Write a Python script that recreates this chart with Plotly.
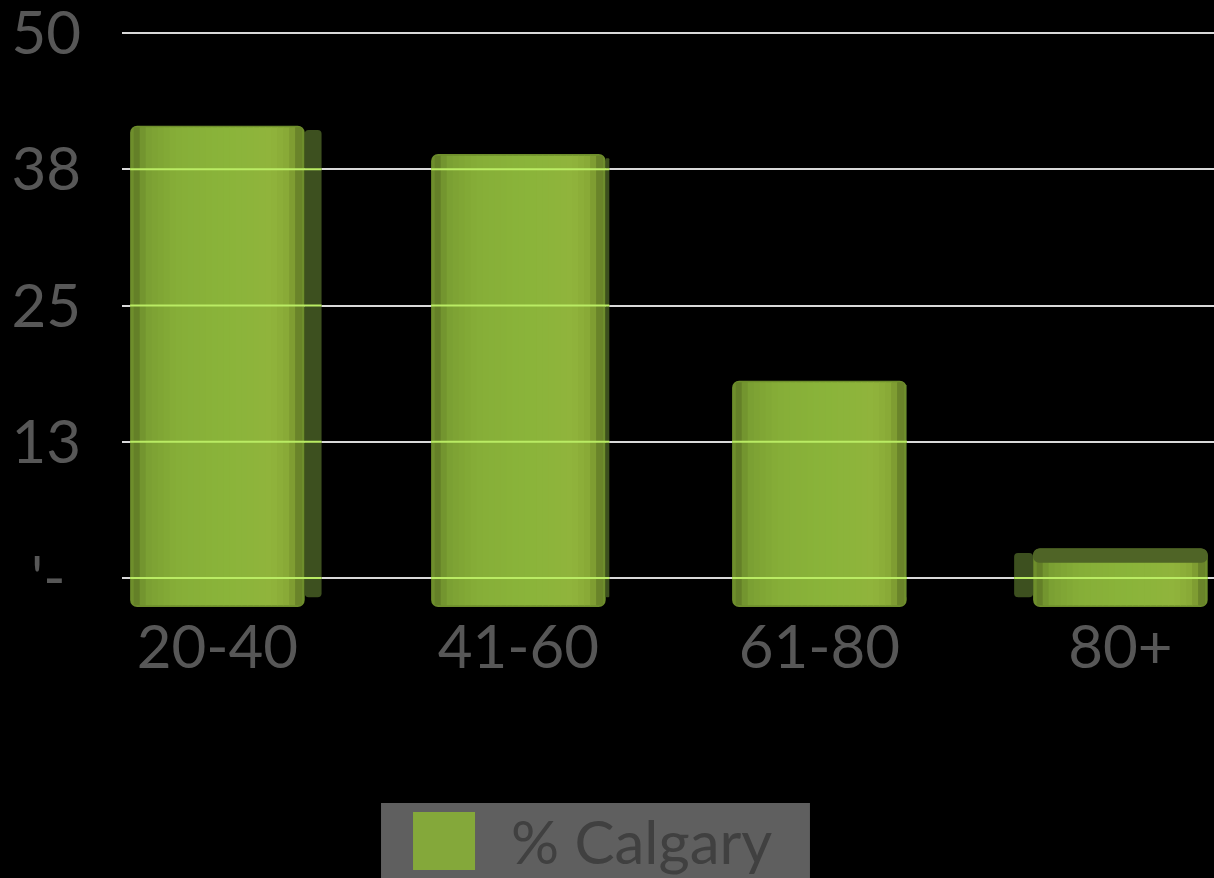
import plotly.graph_objects as go

categories = ["20-40", "41-60", "61-80", "80+"]
values = [41.5, 38.9, 18.1, 2.7]
series_name = "% Calgary"
tick_vals = [0, 12.5, 25, 37.5, 50]
tick_text = ["'-\u00a0", "13", "25", "38", "50"]

FLOOR = 2.66  # visual 3D floor depth below zero (axis units)
FONT = "Lato"
TXT = "#575757"
SIDE = "#3d501f"
TOPFACE = "#4f6426"

# horizontal shading key colours of the front face (left -> right)
keys = [(0.00, (92, 118, 36)), (0.07, (122, 158, 50)), (0.25, (134, 174, 56)),
        (0.55, (138, 180, 58)), (0.82, (144, 180, 60)), (0.93, (136, 168, 54)),
        (1.00, (96, 120, 38))]
N_STRIPS = 28
FACE_W = 0.58


def lerp_colour(t):
    for (t0, c0), (t1, c1) in zip(keys[:-1], keys[1:]):
        if t <= t1:
            f = (t - t0) / (t1 - t0) if t1 > t0 else 0
            return tuple(int(round(a + (b - a) * f)) for a, b in zip(c0, c1))
    return keys[-1][1]


x = list(range(len(categories)))
heights = [v + FLOOR for v in values]

fig = go.Figure()
# base front face (rounded)
fig.add_trace(go.Bar(
    x=x, y=heights, base=-FLOOR, name=series_name,
    width=FACE_W, marker=dict(color="rgb(110,142,44)", line=dict(width=0), cornerradius=7),
    showlegend=False, hoverinfo="skip",
))
# shading strips
inner = FACE_W - 0.024
sw = inner / N_STRIPS
for i in range(N_STRIPS):
    c = lerp_colour((i + 0.5) / N_STRIPS)
    fig.add_trace(go.Bar(
        x=x, y=[h - 0.3 for h in heights], base=-FLOOR + 0.15,
        width=sw + 0.003, offset=-FACE_W / 2 + 0.012 + i * sw,
        marker=dict(color="rgb(%d,%d,%d)" % c, line=dict(width=0)),
        showlegend=False, hoverinfo="skip",
    ))
# top face visible on the lowest bar
top_depth = [0, 0, 0, 1.3]
fig.add_trace(go.Bar(
    x=x, y=top_depth, base=[v - d for v, d in zip(values, top_depth)],
    width=FACE_W, marker=dict(color=TOPFACE, line=dict(width=0), cornerradius=6),
    showlegend=False, hoverinfo="skip",
))
# side faces (perspective)
side_w = [0.056, 0.012, 0.001, 0.063]
side_off = [0.29, 0.29, 0.29, -0.353]
fig.add_trace(go.Bar(
    x=x, y=[h - 1.3 for h in heights], base=-FLOOR + 0.9,
    width=side_w, offset=side_off,
    marker=dict(color=SIDE, line=dict(width=0), cornerradius=4),
    showlegend=False, hoverinfo="skip",
))

# gridlines glowing where they pass over the bars
for i, v in zip(x, values):
    left = i + min(-FACE_W / 2, side_off[i])
    right = i + max(FACE_W / 2, side_off[i] + side_w[i])
    for tv in tick_vals:
        if tv <= v:
            fig.add_shape(type="line", xref="x", yref="y", x0=left, x1=right, y0=tv, y1=tv,
                          line=dict(color="rgb(186,236,100)", width=2), layer="above")

# legend box
fig.add_shape(type="rect", xref="paper", yref="paper", x0=0.2372, x1=0.630,
              y0=-0.46, y1=-0.3229, fillcolor="#5f5f5f", line=dict(width=0))
fig.add_shape(type="rect", xref="paper", yref="paper", x0=0.2665, x1=0.3233,
              y0=-0.4333, y1=-0.3377, fillcolor="#84a83a", line=dict(width=0))
fig.add_annotation(xref="paper", yref="paper", x=0.3544, y=-0.386, text=series_name,
                   showarrow=False, xanchor="left", yanchor="middle",
                   font=dict(family=FONT, size=60, color="#404040"))

fig.update_layout(
    width=1214, height=878,
    paper_bgcolor="black", plot_bgcolor="black",
    margin=dict(l=122, r=0, t=0, b=271),
    barmode="overlay", showlegend=False,
    xaxis=dict(range=[-0.317, 3.311], tickvals=x, ticktext=categories,
               showgrid=False, zeroline=False, showline=False, ticks="",
               tickfont=dict(family=FONT, size=60, color=TXT)),
    yaxis=dict(range=[-FLOOR, 53.03], tickvals=tick_vals, ticktext=tick_text,
               showgrid=True, gridcolor="#d9d9d9", gridwidth=2, zeroline=False,
               showline=False, ticks="", ticklabelstandoff=40, automargin=False,
               ticklabeloverflow="allow",
               tickfont=dict(family=FONT, size=60, color=TXT)),
)

fig.write_html(
    "out.html",
    config={"displayModeBar": False},
    post_script="document.body.style.margin='0';document.body.style.background='black';",
)
